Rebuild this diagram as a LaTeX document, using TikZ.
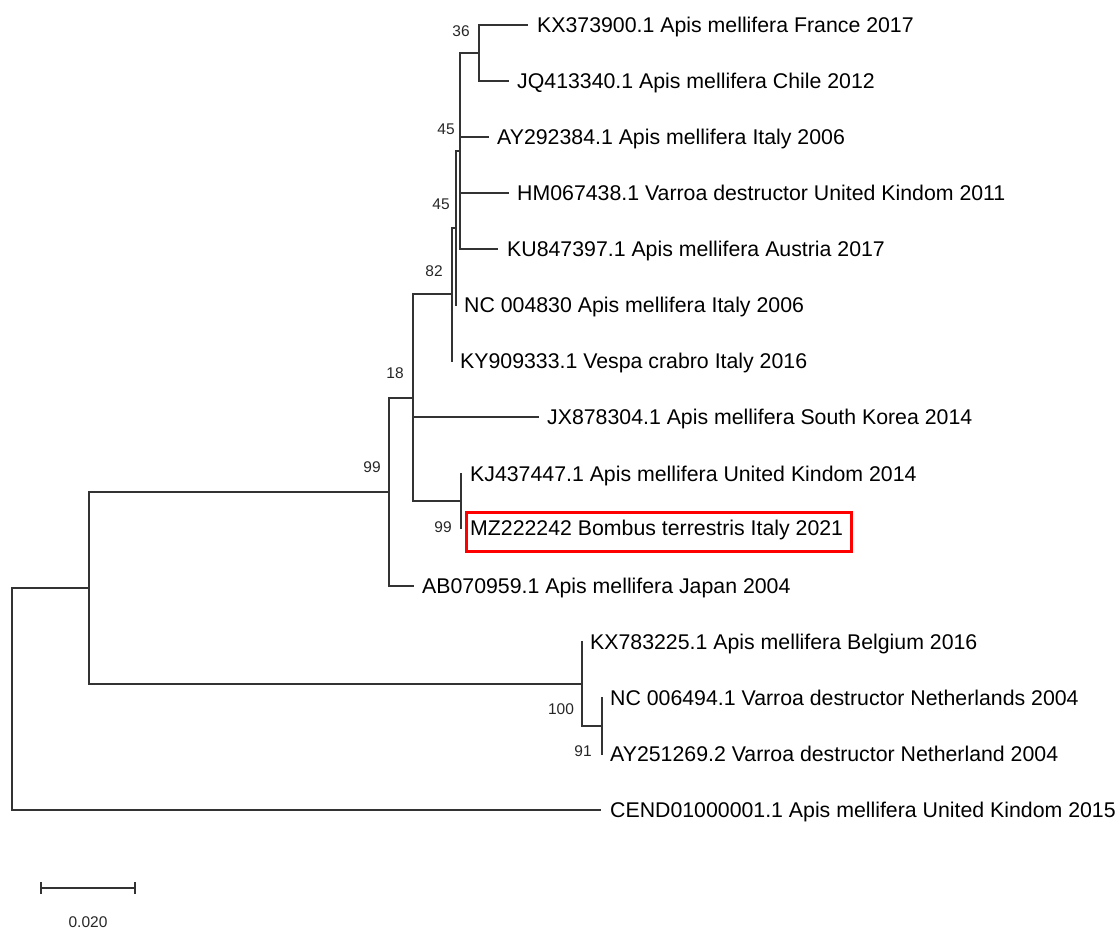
\documentclass[tikz,border=0pt]{standalone}
\usepackage{fontspec}
\setmainfont{Liberation Sans}
\begin{document}
\begin{tikzpicture}[x=1pt,y=-1pt,
  br/.style={line width=1.4pt, color=black!80, line cap=rect},
  leaf/.style={anchor=base west, font=\fontsize{21.3}{25}\selectfont, inner sep=0pt},
  bs/.style={font=\fontsize{15.5}{18}\selectfont, inner sep=0pt, color=black!85},
  redbox/.style={draw=red, line width=3pt}]
\useasboundingbox (0,0) rectangle (1120,931);
% internal nodes
\coordinate (root) at (12,699);
\coordinate (n1) at (89,588);
\coordinate (n99) at (389,492);
\coordinate (n18) at (413,398);
\coordinate (n82) at (452,294);
\coordinate (n45b) at (456,228);
\coordinate (n45a) at (460,151);
\coordinate (n36) at (479,53);
\coordinate (n99b) at (461,501);
\coordinate (n100) at (582,684);
\coordinate (n91) at (602,726);
% leaf ends
\coordinate (l1) at (527,25);
\coordinate (l2) at (508,81);
\coordinate (l3) at (488,137);
\coordinate (l4) at (508,193);
\coordinate (l5) at (497,249);
\coordinate (l6) at (456,305);
\coordinate (l7) at (452,361);
\coordinate (l8) at (538,417);
\coordinate (l9) at (461,474);
\coordinate (l10) at (461,528);
\coordinate (l11) at (413,586);
\coordinate (l12) at (582,642);
\coordinate (l13) at (602,698);
\coordinate (l14) at (602,754);
\coordinate (l15) at (600,810);
% branches
\draw[br] (root) |- (n1);
\draw[br] (root) |- (l15);
\draw[br] (n1) |- (n99);
\draw[br] (n1) |- (n100);
\draw[br] (n99) |- (n18);
\draw[br] (n99) |- (l11);
\draw[br] (n18) |- (n82);
\draw[br] (n18) |- (l8);
\draw[br] (n18) |- (n99b);
\draw[br] (n82) |- (n45b);
\draw[br] (n82) |- (l7);
\draw[br] (n45b) |- (n45a);
\draw[br] (n45b) |- (l6);
\draw[br] (n45a) |- (n36);
\draw[br] (n45a) |- (l3);
\draw[br] (n45a) |- (l4);
\draw[br] (n45a) |- (l5);
\draw[br] (n36) |- (l1);
\draw[br] (n36) |- (l2);
\draw[br] (n99b) |- (l9);
\draw[br] (n99b) |- (l10);
\draw[br] (n100) |- (l12);
\draw[br] (n100) |- (n91);
\draw[br] (n91) |- (l13);
\draw[br] (n91) |- (l14);
% leaf labels
\node[leaf] (t1) at ([xshift=10pt,yshift=-7.5pt]l1) {KX373900.1 Apis mellifera France 2017};
\node[leaf] (t2) at ([xshift=9pt,yshift=-7.5pt]l2) {JQ413340.1 Apis mellifera Chile 2012};
\node[leaf] (t3) at ([xshift=9pt,yshift=-7.5pt]l3) {AY292384.1 Apis mellifera Italy 2006};
\node[leaf] (t4) at ([xshift=9pt,yshift=-7.5pt]l4) {HM067438.1 Varroa destructor United Kindom 2011};
\node[leaf] (t5) at ([xshift=10pt,yshift=-7.5pt]l5) {KU847397.1 Apis mellifera Austria 2017};
\node[leaf] (t6) at ([xshift=8pt,yshift=-7.5pt]l6) {NC 004830 Apis mellifera Italy 2006};
\node[leaf] (t7) at ([xshift=8pt,yshift=-7.5pt]l7) {KY909333.1 Vespa crabro Italy 2016};
\node[leaf] (t8) at ([xshift=9pt,yshift=-7.5pt]l8) {JX878304.1 Apis mellifera South Korea 2014};
\node[leaf] (t9) at ([xshift=9pt,yshift=-7.5pt]l9) {KJ437447.1 Apis mellifera United Kindom 2014};
\node[leaf] (t10) at ([xshift=9pt,yshift=-7.5pt]l10) {MZ222242 Bombus terrestris Italy 2021};
\node[leaf] (t11) at ([xshift=9pt,yshift=-7.5pt]l11) {AB070959.1 Apis mellifera Japan 2004};
\node[leaf] (t12) at ([xshift=8pt,yshift=-7.5pt]l12) {KX783225.1 Apis mellifera Belgium 2016};
\node[leaf] (t13) at ([xshift=8pt,yshift=-7.5pt]l13) {NC 006494.1 Varroa destructor Netherlands 2004};
\node[leaf] (t14) at ([xshift=8pt,yshift=-7.5pt]l14) {AY251269.2 Varroa destructor Netherland 2004};
\node[leaf] (t15) at ([xshift=10pt,yshift=-7.5pt]l15) {CEND01000001.1 Apis mellifera United Kindom 2015};
% highlight box
\draw[redbox] (466,512) rectangle (851,551);
% bootstrap values
\node[bs] (b36) at (461,31) {36};
\node[bs] (b45a) at (446,129) {45};
\node[bs] (b45b) at (441,204) {45};
\node[bs] (b82) at (434,271) {82};
\node[bs] (b18) at (395,373) {18};
\node[bs] (b99) at (372,467) {99};
\node[bs] (b99b) at (443,527) {99};
\node[bs] (b100) at (561,709) {100};
\node[bs] (b91) at (583,751) {91};
% scale bar
\coordinate (s1) at (41,888);
\coordinate (s2) at (135,888);
\draw[br, line cap=butt] (s1) -- (s2);
\draw[br, line cap=butt] ([yshift=-6pt]s1) -- ([yshift=6pt]s1);
\draw[br, line cap=butt] ([yshift=-6pt]s2) -- ([yshift=6pt]s2);
\node[bs] (sl) at (88,922) {0.020};
\end{tikzpicture}
\end{document}
